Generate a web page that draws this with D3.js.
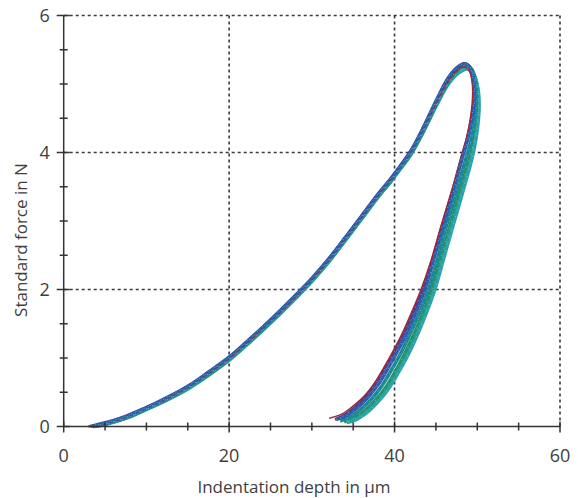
<!DOCTYPE html>
<html>
<head>
<meta charset="utf-8">
<script src="https://cdn.jsdelivr.net/npm/d3@7"></script>
<style>
  body { margin: 0; background: #fff; }
  svg text { font-family: 'Open Sans', sans-serif; fill: #404040; }
</style>
</head>
<body>
<div id="chart"></div>
<script>
// x / y ticks
const xTicks = [0, 20, 40, 60]
const yTicks = [0, 2, 4, 6]
const xLabel = 'Indentation depth in µm'
const yLabel = 'Standard force in N'

// six repeated indentation tests: [depth µm, force N], loading then unloading
const testGreen = [
  [3.8,0],[5,0.03],[7.5,0.12],[10,0.25],[12.5,0.39],[15,0.55],[17.5,0.75],[20,0.97],[22,1.18],[24,1.4],[26,1.63],[28,1.87],[30,2.12],[32,2.4],[34,2.71],[36,3.03],[38,3.35],[39.5,3.57],[40.5,3.73],[42,3.98],[43.5,4.31],[45,4.68],[46.5,5.02],[47.7,5.18],[48.7,5.25],
  [49.5,5.16],[50.0,4.95],[50.1,4.7],[49.9,4.4],[49.5,4.1],[48.9,3.85],[48.2,3.55],[47.5,3.25],[46.6,2.88],[45.6,2.45],[44.5,2.0],[43.4,1.64],[42.3,1.33],[41.2,1.05],[40.1,0.8],[38.9,0.56],[37.6,0.37],[36.3,0.22],[35.0,0.12],[33.9,0.07]
]
const testCyan = [
  [3.6,0],[5,0.04],[7.5,0.13],[10,0.26],[12.5,0.4],[15,0.56],[17.5,0.77],[20,0.98],[22,1.19],[24,1.41],[26,1.64],[28,1.88],[30,2.13],[32,2.41],[34,2.72],[36,3.04],[38,3.36],[39.5,3.58],[40.5,3.74],[42,3.99],[43.5,4.32],[45,4.68],[46.5,5.0],[47.7,5.16],[48.8,5.22],
  [49.6,5.12],[50.1,4.9],[50.2,4.65],[50.0,4.35],[49.6,4.05],[49.1,3.8],[48.4,3.5],[47.7,3.2],[46.8,2.83],[45.8,2.4],[44.8,1.98],[43.7,1.62],[42.6,1.3],[41.5,1.02],[40.4,0.78],[39.2,0.54],[37.9,0.35],[36.6,0.2],[35.3,0.1],[34.2,0.06]
]
const testTeal = [
  [3.5,0],[5,0.04],[7.5,0.13],[10,0.26],[12.5,0.4],[15,0.57],[17.5,0.77],[20,0.99],[22,1.2],[24,1.42],[26,1.65],[28,1.89],[30,2.14],[32,2.42],[34,2.73],[36,3.05],[38,3.37],[39.5,3.59],[40.5,3.75],[42,4.0],[43.5,4.33],[45,4.7],[46.5,5.03],[47.6,5.2],[48.6,5.28],
  [49.4,5.2],[49.8,5.0],[49.9,4.75],[49.7,4.45],[49.2,4.15],[48.6,3.9],[47.9,3.6],[47.2,3.3],[46.2,2.9],[45.2,2.45],[44.1,2.0],[43.0,1.66],[41.9,1.36],[40.8,1.08],[39.7,0.84],[38.5,0.6],[37.2,0.4],[35.9,0.25],[34.6,0.14],[33.4,0.08]
]
const testPurple = [
  [3.3,0],[5,0.05],[7.5,0.15],[10,0.28],[12.5,0.42],[15,0.59],[17.5,0.79],[20,1.01],[22,1.22],[24,1.44],[26,1.67],[28,1.91],[30,2.16],[32,2.44],[34,2.75],[36,3.07],[38,3.39],[39.5,3.61],[40.5,3.77],[42,4.03],[43.5,4.37],[45,4.74],[46.5,5.08],[47.5,5.23],[48.4,5.3],
  [49.1,5.25],[49.5,5.05],[49.6,4.8],[49.3,4.5],[48.8,4.22],[48.2,3.97],[47.5,3.66],[46.8,3.35],[45.8,2.95],[44.7,2.48],[43.5,2.02],[42.4,1.7],[41.3,1.4],[40.2,1.14],[39.1,0.9],[37.9,0.66],[36.6,0.45],[35.3,0.29],[34.0,0.17],[32.8,0.1]
]
const testRed = [
  [3.4,0],[5,0.05],[7.5,0.14],[10,0.27],[12.5,0.41],[15,0.58],[17.5,0.78],[20,1.0],[22,1.21],[24,1.43],[26,1.66],[28,1.9],[30,2.15],[32,2.43],[34,2.74],[36,3.06],[38,3.38],[39.5,3.6],[40.5,3.76],[42,4.02],[43.5,4.35],[45,4.72],[46.5,5.05],[47.5,5.19],[48.3,5.25],
  [49.0,5.2],[49.4,5.0],[49.4,4.75],[49.1,4.45],[48.6,4.15],[48.0,3.9],[47.3,3.6],[46.5,3.28],[45.5,2.88],[44.4,2.42],[43.2,2.0],[42.1,1.68],[41.0,1.38],[39.9,1.12],[38.8,0.88],[37.6,0.64],[36.3,0.44],[35.0,0.3],[33.6,0.18],[32.1,0.12]
]
const testBlue = [
  [3.0,0],[5,0.06],[7.5,0.15],[10,0.28],[12.5,0.43],[15,0.59],[17.5,0.8],[20,1.02],[22,1.23],[24,1.45],[26,1.68],[28,1.92],[30,2.17],[32,2.45],[34,2.76],[36,3.08],[38,3.4],[39.5,3.62],[40.5,3.78],[42,4.04],[43.5,4.38],[45,4.76],[46.5,5.1],[47.6,5.25],[48.5,5.3],
  [49.2,5.22],[49.6,5.02],[49.7,4.78],[49.4,4.48],[48.9,4.2],[48.3,3.95],[47.6,3.64],[46.9,3.33],[45.9,2.92],[44.8,2.45],[43.7,2.0],[42.6,1.66],[41.5,1.36],[40.4,1.1],[39.3,0.86],[38.1,0.62],[36.8,0.42],[35.5,0.27],[34.2,0.16],[33.0,0.1]
]

const tests = [
  { data: testGreen,  color: '#23926b', w: 3.8 },
  { data: testCyan,   color: '#2aa2a8', w: 3.8 },
  { data: testTeal,   color: '#1a8796', w: 3.6 },
  { data: testPurple, color: '#4a4094', w: 3.0 },
  { data: testRed,    color: '#a3262e', w: 1.5 },
  { data: testBlue,   color: '#2a5cab', w: 2.8 }
]

const width = 578, height = 498
const margin = { left: 63.7, right: 18, top: 15.5, bottom: 71.5 }
const innerW = width - margin.left - margin.right
const innerH = height - margin.top - margin.bottom

const svg = d3.select('#chart').append('svg')
  .attr('width', width)
  .attr('height', height)

const g = svg.append('g')
  .attr('transform', `translate(${margin.left},${margin.top})`)

const x = d3.scaleLinear().domain([0, 60]).range([0, innerW])
const y = d3.scaleLinear().domain([0, 6]).range([innerH, 0])

// dashed grid + top/right border
const gridColor = '#3a3a3a'
g.selectAll('.vgrid')
  .data(xTicks.slice(1))
  .enter().append('line')
    .attr('x1', d => x(d)).attr('x2', d => x(d))
    .attr('y1', 0).attr('y2', innerH)
    .attr('stroke', gridColor)
    .attr('stroke-width', 1.6)
    .attr('stroke-dasharray', '3,3')
g.selectAll('.hgrid')
  .data(yTicks.slice(1))
  .enter().append('line')
    .attr('y1', d => y(d)).attr('y2', d => y(d))
    .attr('x1', 0).attr('x2', innerW)
    .attr('stroke', gridColor)
    .attr('stroke-width', 1.6)
    .attr('stroke-dasharray', '3,3')

// curves
const line = d3.line()
  .x(d => x(d[0]))
  .y(d => y(d[1]))
  .curve(d3.curveCatmullRom.alpha(0.5))

tests.forEach(t => {
  g.append('path')
    .datum(t.data)
    .attr('fill', 'none')
    .attr('stroke', t.color)
    .attr('stroke-width', t.w)
    .attr('stroke-linejoin', 'round')
    .attr('d', line)
})

// speckled look of the measured points
tests.filter(t => t.w > 2).forEach(t => {
  g.append('path')
    .datum(t.data)
    .attr('fill', 'none')
    .attr('stroke', '#cfe3ea')
    .attr('stroke-opacity', 0.55)
    .attr('stroke-width', 0.9)
    .attr('stroke-dasharray', '1,6')
    .attr('d', line)
})

// axes: ticks cross the axis line
const axisColor = '#333'
const xAxis = g.append('g').attr('transform', `translate(0,${innerH})`)
xAxis.append('line')
  .attr('x1', 0).attr('x2', innerW)
  .attr('stroke', axisColor).attr('stroke-width', 1.5)
xAxis.selectAll('.minor')
  .data(d3.range(0, 61, 5))
  .enter().append('line')
    .attr('x1', d => x(d)).attr('x2', d => x(d))
    .attr('y1', d => d % 20 === 0 ? -5 : -4)
    .attr('y2', d => d % 20 === 0 ? 6 : 4)
    .attr('stroke', axisColor).attr('stroke-width', 1.5)
xAxis.selectAll('text')
  .data(xTicks)
  .enter().append('text')
    .attr('x', d => x(d))
    .attr('y', 35)
    .attr('text-anchor', 'middle')
    .attr('font-size', 18)
    .text(d => d)

const yAxis = g.append('g')
yAxis.append('line')
  .attr('y1', 0).attr('y2', innerH)
  .attr('stroke', axisColor).attr('stroke-width', 1.5)
yAxis.selectAll('.minor')
  .data(d3.range(0, 6.01, 0.5))
  .enter().append('line')
    .attr('y1', d => y(d)).attr('y2', d => y(d))
    .attr('x1', d => d % 2 === 0 ? -7 : -4)
    .attr('x2', d => d % 2 === 0 ? 6 : 4)
    .attr('stroke', axisColor).attr('stroke-width', 1.5)
yAxis.selectAll('text')
  .data(yTicks)
  .enter().append('text')
    .attr('x', -14)
    .attr('y', d => y(d))
    .attr('dy', '0.35em')
    .attr('text-anchor', 'end')
    .attr('font-size', 18)
    .text(d => d)

// axis titles
svg.append('text')
  .attr('x', 294)
  .attr('y', 493)
  .attr('text-anchor', 'middle')
  .attr('font-size', 17)
  .text(xLabel)

svg.append('text')
  .attr('transform', 'translate(27,240) rotate(-90)')
  .attr('text-anchor', 'middle')
  .attr('font-size', 17)
  .text(yLabel)
</script>
</body>
</html>
